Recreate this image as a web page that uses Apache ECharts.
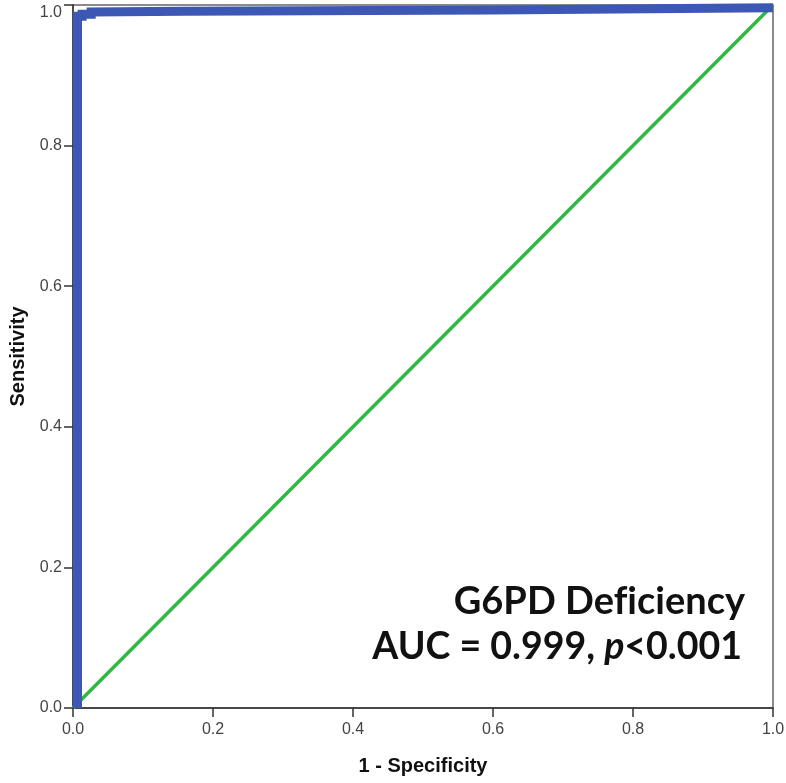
<!DOCTYPE html>
<html>
<head>
<meta charset="utf-8">
<script src="https://cdn.jsdelivr.net/npm/echarts@6/dist/echarts.min.js"></script>
<style>
  html, body { margin: 0; padding: 0; background: #fff; }
  #chart { width: 786px; height: 783px; }
</style>
</head>
<body>
<div id="chart"></div>
<script>
// ROC curve (1 - specificity, sensitivity)
const rocFpr = [0.0064, 0.0064, 0.013, 0.013, 0.026, 0.026, 0.16, 0.6, 1.0];
const rocTpr = [0.0, 0.984, 0.984, 0.987, 0.987, 0.990, 0.991, 0.993, 0.996];
// reference diagonal
const refLine = [[0, 0], [1, 1]];
const tickLabels = ['0.0', '0.2', '0.4', '0.6', '0.8', '1.0'];

const chart = echarts.init(document.getElementById('chart'));

const axisCommon = {
  type: 'value',
  min: 0,
  max: 1,
  interval: 0.2,
  nameLocation: 'middle',
  nameTextStyle: { color: '#111', fontWeight: 'bold', fontSize: 20, fontFamily: 'Liberation Sans' },
  axisLine: { show: true, lineStyle: { color: '#333', width: 1.5 } },
  axisTick: { show: true, length: 9, lineStyle: { color: '#333', width: 1.5 } },
  axisLabel: {
    color: '#444',
    fontSize: 16,
    fontFamily: 'Liberation Sans',
    formatter: (v) => tickLabels[Math.round(v / 0.2)]
  },
  splitLine: { show: false }
};

const option = {
  backgroundColor: '#fff',
  animation: false,
  grid: {
    left: 73, right: 13, top: 5, bottom: 75,
    containLabel: false,
    outerBoundsMode: 'none',
    show: true, borderColor: '#666', borderWidth: 1.5
  },
  xAxis: Object.assign({}, axisCommon, {
    name: '1 - Specificity',
    nameGap: 48,
    axisLabel: Object.assign({}, axisCommon.axisLabel, { margin: 14 })
  }),
  yAxis: Object.assign({}, axisCommon, {
    name: 'Sensitivity',
    nameGap: 45,
    axisLabel: Object.assign({}, axisCommon.axisLabel, { margin: 11, verticalAlignMaxLabel: 'top' })
  }),
  series: [
    {
      type: 'line',
      data: refLine,
      symbol: 'none',
      lineStyle: { color: '#2fb944', width: 3.5 },
      z: 2
    },
    {
      type: 'line',
      data: rocFpr.map((x, i) => [x, rocTpr[i]]),
      symbol: 'none',
      lineStyle: { color: '#3d58b4', width: 9, join: 'miter' },
      z: 3
    }
  ],
  graphic: [
    {
      type: 'text',
      right: 41,
      top: 583,
      style: {
        text: 'G6PD Def\u200Ciciency',
        fontFamily: 'Lato',
        fontWeight: 'bold',
        fontSize: 38,
        fill: '#111',
        align: 'right'
      }
    },
    {
      type: 'text',
      right: 44,
      top: 628,
      style: {
        text: '{n|AUC = 0.999, }{i|p}{n|<0.001}',
        rich: {
          n: { fontFamily: 'Lato', fontWeight: 'bold', fontSize: 37.5, fill: '#111' },
          i: { fontFamily: 'Lato', fontWeight: 'bold', fontStyle: 'italic', fontSize: 37.5, fill: '#111' }
        },
        align: 'right'
      }
    }
  ]
};

chart.setOption(option);
</script>
</body>
</html>
